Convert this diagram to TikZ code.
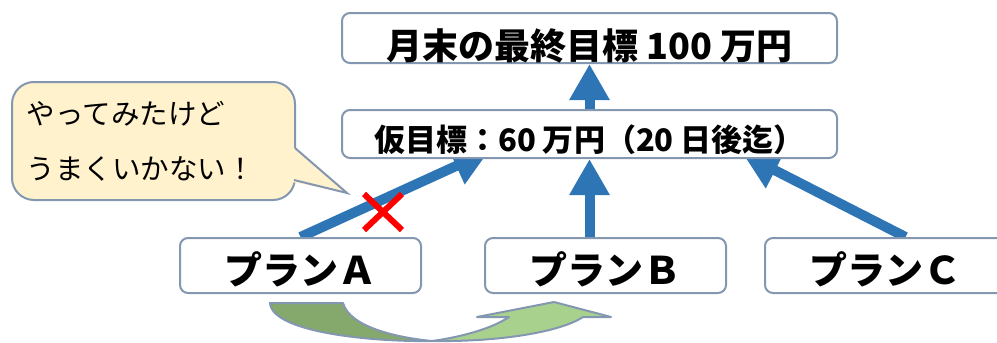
\documentclass[tikz,border=0pt]{standalone}
\usepackage{fontspec}
\newfontfamily\jpfont{Noto Sans CJK JP}
\usetikzlibrary{arrows.meta,backgrounds,calc}

\definecolor{boxline}{HTML}{8497B0}
\definecolor{arrblue}{HTML}{2E75B6}
\definecolor{bubfill}{HTML}{FFF2CC}
\definecolor{grndark}{HTML}{85A86C}
\definecolor{grnlight}{HTML}{A9D18E}

\begin{document}
\begin{tikzpicture}[x=1pt,y=-1pt,
  planbox/.style={draw=boxline,line width=2pt,fill=white,rounded corners=8pt,inner sep=0pt,text depth=0pt},
  uparrow/.style={arrblue,line width=10pt,-{Triangle[width=38pt,length=36pt]}}]

  \useasboundingbox (0,0) rectangle (997,343);

  \node (GOAL) at (589.5,38) [planbox,minimum width=495,minimum height=50,text height=43pt,font=\jpfont\bfseries\fontsize{36}{36}\selectfont] {月末の最終目標 100 万円};
  \node (KARI) at (589.5,134) [planbox,minimum width=495,minimum height=48,text height=34pt,font=\jpfont\bfseries\fontsize{31}{31}\selectfont] {仮目標：60 万円（20 日後迄）};

  \node (PLNA) at (300.5,265.5) [planbox,minimum width=241,minimum height=55,text height=38pt,font=\jpfont\bfseries\fontsize{38}{38}\selectfont] {プランＡ};
  \node (PLNB) at (605.5,265.5) [planbox,minimum width=241,minimum height=55,text height=38pt,font=\jpfont\bfseries\fontsize{38}{38}\selectfont] {プランＢ};
  \node (PLNC) at (885.5,265.5) [planbox,minimum width=241,minimum height=55,text height=38pt,font=\jpfont\bfseries\fontsize{38}{38}\selectfont] {プランＣ};

  \begin{scope}[on background layer]
    \draw[uparrow] (KARI.north) -- (KARI.north |- GOAL.south);
    \draw[uparrow] (PLNB.north -| KARI.south) -- (KARI.south);
    \draw[uparrow] (PLNA.north) -- ($(KARI.south west)+(148,-8)$);
    \draw[uparrow] ([xshift=20pt]PLNC.north) -- ($(KARI.south east)+(-95,-5)$);
  \end{scope}

  \node (BUBL) at (153.5,141) [draw=boxline,line width=2pt,fill=bubfill,rounded corners=22pt,minimum width=283,minimum height=118,text width=253,inner xsep=15pt,align=left,font=\jpfont\fontsize{28.5}{55}\selectfont] {やってみたけど\\うまくいかない！};
  \fill[bubfill] (292,146) -- (347,193) -- (292,182) -- cycle;
  \draw[boxline,line width=2pt] (295,148) -- (347,193) -- (294,180);

  \draw[red,line width=6pt] (364,194) -- (402,230) (364,230) -- (402,194);

  \filldraw[fill=grndark,draw=boxline,line width=2pt,line join=round] (270,303) -- (343,303) .. controls (350,328) and (400,338) .. (432,341) .. controls (370,342) and (272,332) .. (270,303) -- cycle;
  \filldraw[fill=grnlight,draw=boxline,line width=2pt,line join=round] (432,341) .. controls (500,342) and (560,332) .. (583,317) -- (611,317) -- (554,302) -- (477,317) -- (509,317) .. controls (490,330) and (455,338) .. (432,341) -- cycle;

\end{tikzpicture}
\end{document}
